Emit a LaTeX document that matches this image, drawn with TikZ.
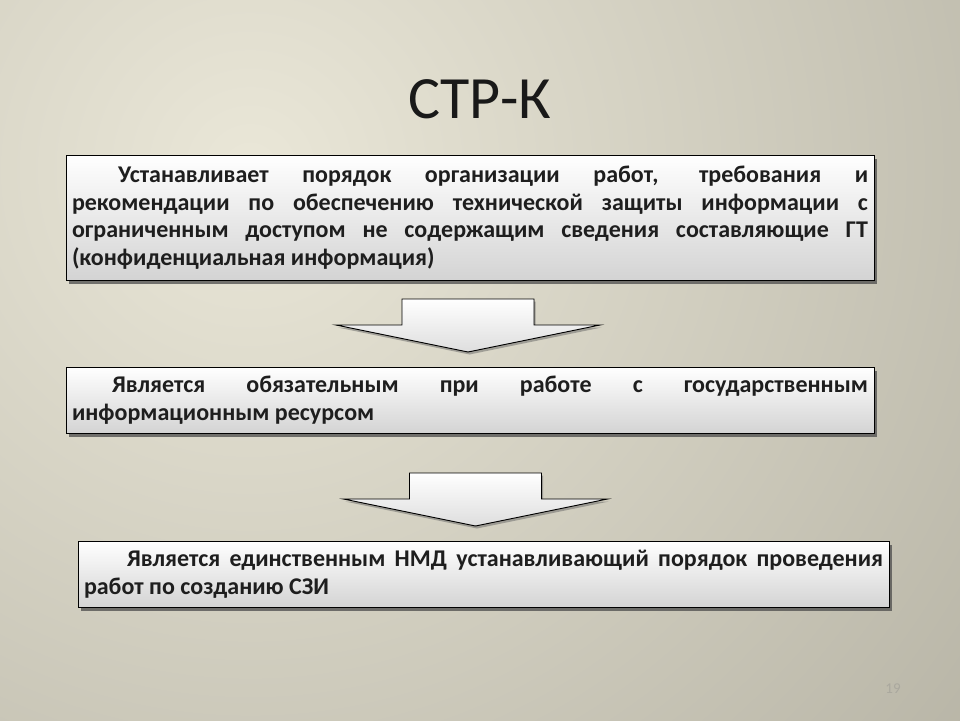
\documentclass[tikz,border=0pt]{standalone}
\usepackage{fontspec}
\setmainfont{Carlito}
\usepackage{tikz}
\usetikzlibrary{shadows}
\usetikzlibrary{calc}

\definecolor{bglight}{RGB}{234,231,216}
\definecolor{bgdark}{RGB}{142,139,125}
\definecolor{boxtext}{RGB}{30,30,30}
\definecolor{pagenum}{RGB}{170,168,158}

\hyphenpenalty=10000
\tolerance=10000

\begin{document}
\begin{tikzpicture}[x=1pt,y=-1pt]
      \newcommand{\blockarrow}[1]{\filldraw[arrowshape, shift={#1}] (-66,0) -- (66,0) -- (66,26) -- (132,26) -- (0,53) -- (-132,26) -- (-66,26) -- cycle;}
      \newcommand{\firstindent}[1]{\hbox to #1{}}
      \tikzstyle{textbox}=[
        rectangle,
        draw=black,
        line width=0.9pt,
        top color=white,
        bottom color=black!17,
        drop shadow={shadow xshift=3pt, shadow yshift=-4pt, fill=black!70, opacity=0.75},
        align=justify,
        inner xsep=6pt,
        text=boxtext,
        font=\fontsize{24}{27.5}\selectfont\bfseries,
      ]
      \tikzstyle{arrowshape}=[
        draw=black,
        line width=0.9pt,
        top color=white,
        bottom color=black!13,
        drop shadow={shadow xshift=1.5pt, shadow yshift=-2.5pt, fill=black!60, opacity=0.5},
      ]

      \useasboundingbox (0,0) rectangle (960,720);
      % background
      \begin{scope}
        \clip (0,0) rectangle (960,720);
        \shade[inner color=bglight, outer color=bgdark] (250,170) circle (1700);
      \end{scope}

      \node[anchor=base, font=\fontsize{60}{70}\selectfont, text=black!90] (title) at (480,118) {СТР-К};

      \node[textbox, minimum width=808, minimum height=125, text width=796] (rules) at (470,217.5)
        {\firstindent{46pt}Устанавливает порядок организации работ, требования и\linebreak
         рекомендации по обеспечению технической защиты информации с\linebreak
         ограниченным доступом не содержащим сведения составляющие ГТ\linebreak
         (конфиденциальная информация)};
      \node[textbox, minimum width=808, minimum height=66, text width=796] (state) at (470,400)
        {\firstindent{40pt}Является обязательным при работе с государственным\linebreak
         информационным ресурсом};
      \node[textbox, minimum width=811, minimum height=66, text width=799] (single) at (483.5,574)
        {\firstindent{43pt}Является единственным НМД устанавливающий порядок проведения\linebreak
         работ по созданию СЗИ};

      \blockarrow{(468,299)}
      \blockarrow{(475.5,473)}

      \node[anchor=base, font=\fontsize{15}{18}\selectfont, text=pagenum] (page) at (893,693) {19};
    \end{tikzpicture}
\end{document}
